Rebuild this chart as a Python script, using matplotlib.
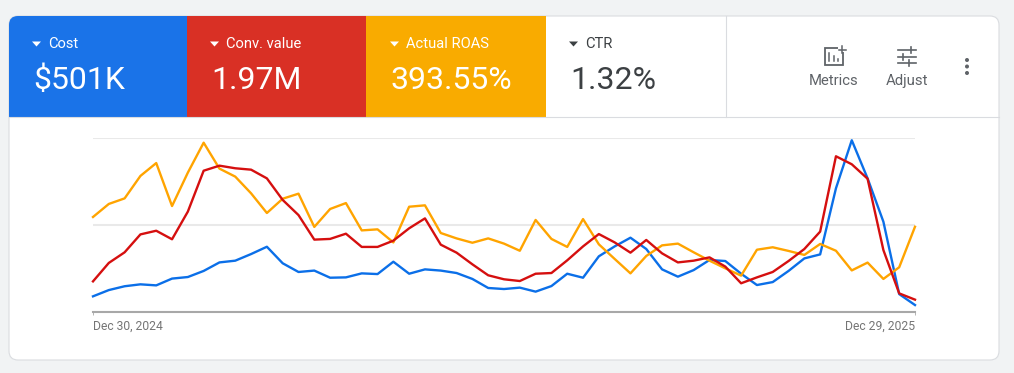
import matplotlib
import matplotlib.pyplot as plt
from matplotlib.patches import FancyBboxPatch, Polygon, Rectangle, Circle
import numpy as np
import pandas as pd

matplotlib.use("Agg")
plt.rcParams["font.family"] = ["Roboto", "DejaVu Sans"]

# weekly points, values are % of the chart height (each metric has its own hidden scale)
weeks = pd.date_range("2024-12-30", "2025-12-29", freq="7D")

cost = [9.0, 12.6, 14.8, 15.9, 15.3, 19.2, 20.1, 23.6, 28.5, 29.5, 33.3, 37.5, 28.0,
        23.0, 23.8, 19.7, 19.9, 22.2, 21.8, 28.9, 22.0, 24.5, 23.8, 22.4, 19.0, 13.8,
        13.2, 14.0, 11.7, 14.9, 22.0, 19.7, 32.0, 37.7, 42.7, 36.2, 24.5, 20.3, 24.1,
        29.9, 29.3, 22.0, 15.5, 17.2, 23.6, 30.8, 33.1, 71.1, 98.7, 76.8, 51.9, 10.3, 4.0]
conv_value = [17.6, 28.2, 34.3, 44.6, 46.7, 41.8, 57.7, 81.2, 84.1, 82.6, 81.8, 76.8, 64.4,
              55.7, 41.6, 42.0, 45.0, 37.4, 37.4, 41.0, 48.1, 53.8, 38.7, 34.1, 27.4, 21.1,
              18.8, 17.8, 22.0, 22.4, 29.7, 37.7, 44.8, 40.0, 34.1, 41.4, 33.7, 28.5, 29.5,
              31.4, 26.1, 16.5, 19.9, 23.0, 29.3, 36.2, 46.2, 89.5, 84.9, 76.6, 35.6, 10.7, 7.1]
roas = [54.6, 62.1, 65.3, 78.2, 85.6, 60.9, 80.1, 97.3, 82.4, 77.8, 68.2, 56.9, 65.1,
        68.0, 48.9, 59.2, 62.6, 46.9, 47.5, 40.0, 60.5, 61.3, 45.4, 42.3, 39.8, 42.3,
        39.3, 35.2, 52.9, 42.0, 37.4, 53.4, 38.9, 30.5, 22.2, 32.2, 38.3, 39.3, 34.3,
        29.5, 25.1, 20.9, 35.8, 37.2, 35.1, 32.8, 39.1, 35.2, 23.9, 28.4, 19.0, 25.7, 49.0]

metric_names = ["Cost", "Conv. value", "Actual ROAS", "CTR"]
metric_totals = ["$501K", "1.97M", "393.55%", "1.32%"]
tick_labels = ["Dec 30, 2024", "Dec 29, 2025"]

BLUE = "#1a73e8"
RED = "#d93025"
YELLOW = "#f9ab00"
GRID = "#e9e9e9"
DARK = "#3c4043"
GREY = "#5f6368"

W, H = 1014, 373
fig = plt.figure(figsize=(W / 100, H / 100), dpi=100, facecolor="#f1f3f4")

# page layer in pixel coordinates, y going down
bg = fig.add_axes([0, 0, 1, 1])
bg.set_xlim(0, W)
bg.set_ylim(H, 0)
bg.axis("off")

card = FancyBboxPatch((9, 16), 990, 344, boxstyle="round,pad=0,rounding_size=9",
                      fc="white", ec="#dadce0", lw=0.8, zorder=1)
bg.add_patch(card)

tiles = [(9, 178, BLUE), (187, 179, RED), (366, 180, YELLOW)]
for x0, w, col in tiles:
    r = Rectangle((x0, 16), w, 101, fc=col, ec="none", zorder=2)
    bg.add_patch(r)
    r.set_clip_path(card)

bg.plot([9, 999], [117.2, 117.2], color="#dadce0", lw=0.8, zorder=3)
bg.plot([726, 726], [16, 117], color="#dadce0", lw=0.8, zorder=3)

# scorecards
starts = [32, 210, 390, 569]
for i, x0 in enumerate(starts):
    col = "white" if i < 3 else DARK
    bg.add_patch(Polygon([(x0, 41.5), (x0 + 9, 41.5), (x0 + 4.5, 46.5)], fc=col, ec="none", zorder=4))
    bg.text(x0 + 16.5, 44.5, metric_names[i], color=col, fontsize=10.6, va="center", ha="left", zorder=4)
    bg.text(x0 + 1, 80.5, metric_totals[i], color=col, fontsize=23, va="center", ha="left", zorder=4)

# Metrics icon
bg.add_patch(Rectangle((824.5, 47.5), 18, 17, fc="none", ec=GREY, lw=1.3, zorder=4))
bg.add_patch(Rectangle((838, 45), 8, 7, fc="white", ec="none", zorder=4))
bg.plot([842, 842], [46, 53], color=GREY, lw=1.1, zorder=5)
bg.plot([838.5, 845.5], [49.5, 49.5], color=GREY, lw=1.1, zorder=5)
for bx, by in [(829, 53), (833.5, 56), (838, 59)]:
    bg.plot([bx, bx], [by, 61], color=GREY, lw=1.1, zorder=5)
bg.text(834, 81, "Metrics", color=GREY, fontsize=10.7, ha="center", va="center", zorder=4)

# Adjust icon
for sy, a, b, kx in [(50, 898, 916, 911), (56.5, 898, 916, 903), (62.5, 898, 916, 909)]:
    bg.plot([a, b], [sy, sy], color=GREY, lw=1.2, zorder=4)
    bg.plot([kx, kx], [sy - 3, sy + 3], color=GREY, lw=1.2, zorder=4)
bg.text(907, 81, "Adjust", color=GREY, fontsize=10.7, ha="center", va="center", zorder=4)

# overflow dots
for dy in [60, 66.5, 73]:
    bg.add_patch(Circle((967, dy), 2, fc=GREY, ec="none", zorder=4))

# chart, 0-100 maps to y=312 up to y=138
ax = fig.add_axes([93 / W, 1 - 312 / H, 822 / W, 174 / H], facecolor="none")
ax.set_xlim(weeks[0], weeks[-1])
ax.set_ylim(0, 100)
for s in ["top", "left", "right"]:
    ax.spines[s].set_visible(False)
ax.spines["bottom"].set_color("#a8a8a8")
ax.spines["bottom"].set_linewidth(1.5)
ax.set_yticks([0, 50, 100])
ax.set_yticklabels([])
ax.tick_params(axis="y", length=0)
ax.yaxis.grid(True, color=GRID, lw=1.5)
ax.set_axisbelow(True)

ax.plot(weeks, cost, color="#0b6fe8", lw=1.7, clip_on=False, zorder=3)
ax.plot(weeks, roas, color="#ffa400", lw=1.7, clip_on=False, zorder=4)
ax.plot(weeks, conv_value, color="#d50f0f", lw=1.7, clip_on=False, zorder=5)

ax.set_xticks([weeks[0], weeks[-1]])
ax.set_xticklabels(tick_labels, color="#757575", fontsize=8.7)
ax.tick_params(axis="x", length=2, width=0.6, color="#a8a8a8", pad=3.5)
labels = ax.get_xticklabels()
labels[0].set_ha("left")
labels[1].set_ha("right")

fig.savefig("out.png", dpi=100, facecolor=fig.get_facecolor())
